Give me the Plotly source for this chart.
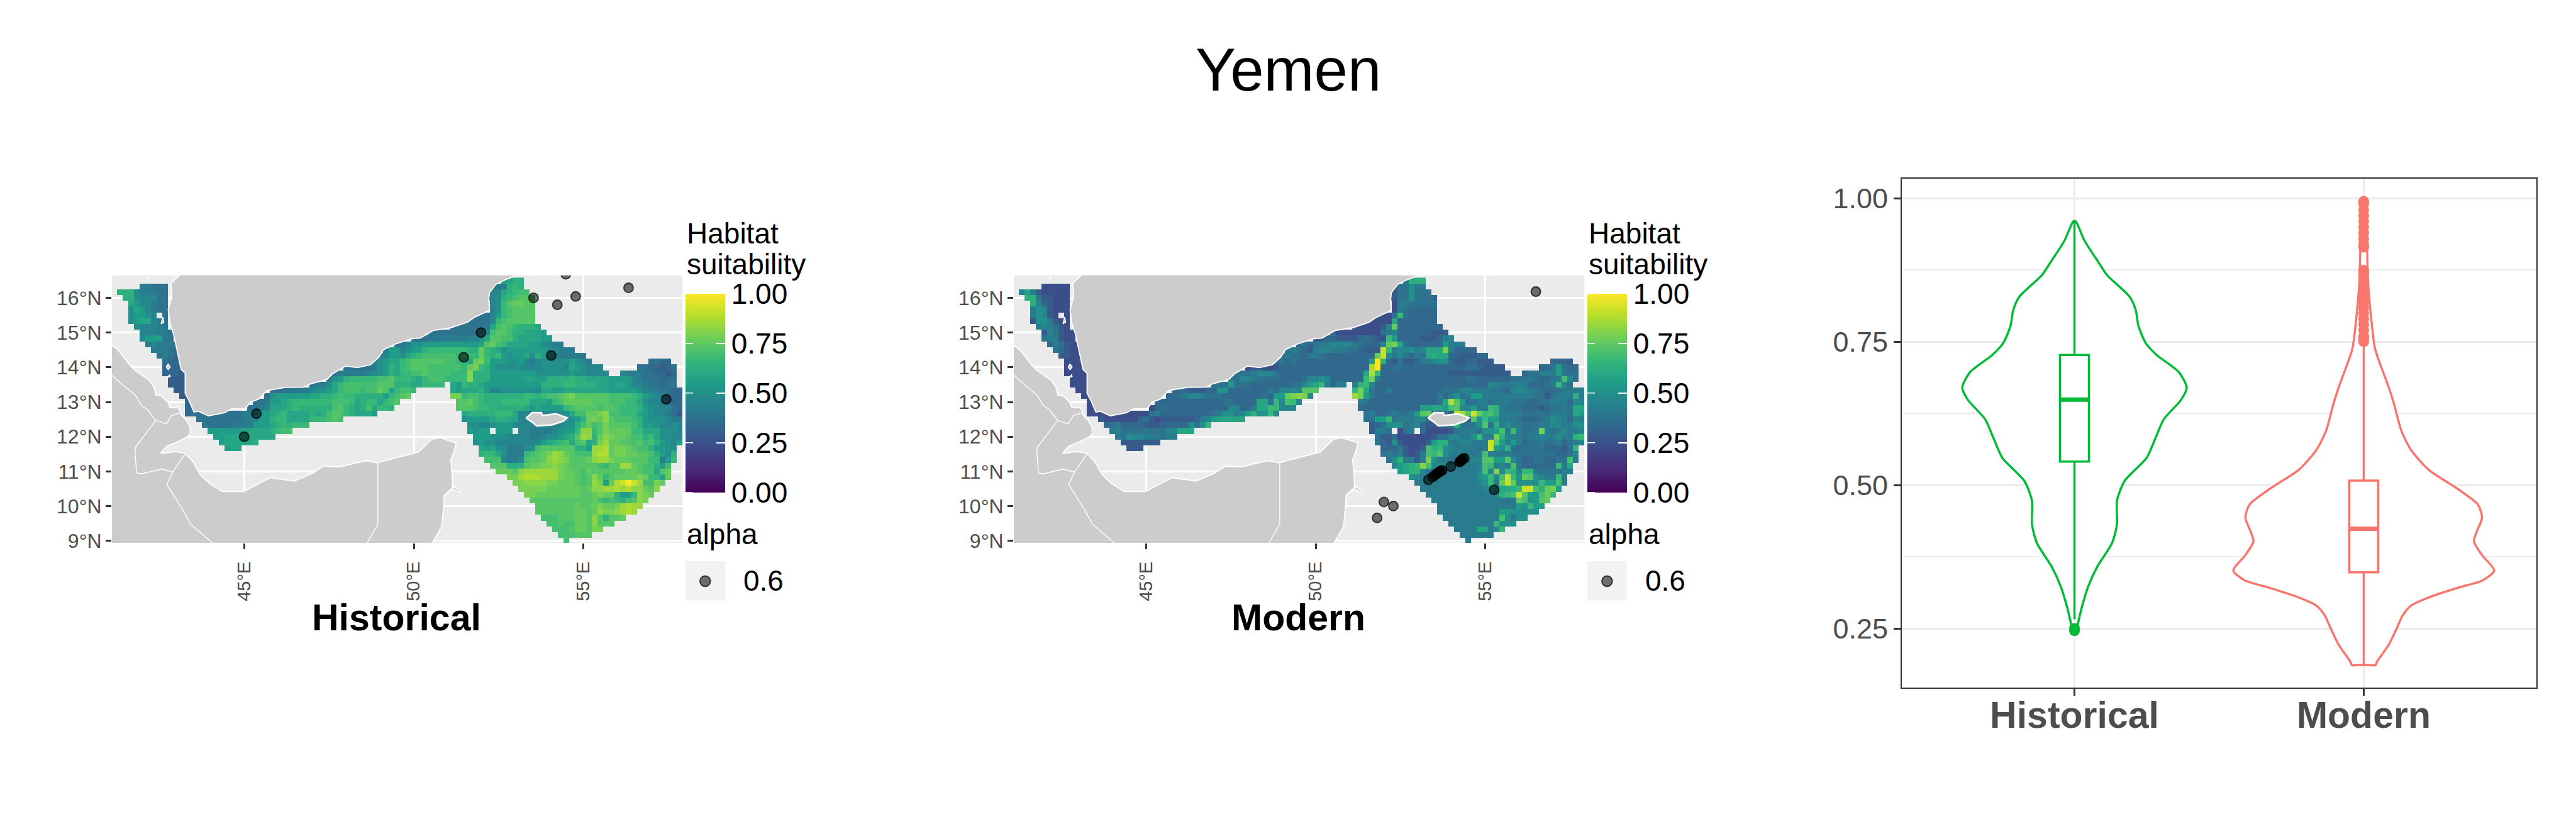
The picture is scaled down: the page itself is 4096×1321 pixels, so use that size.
import plotly.graph_objects as go

W, H = 4096, 1321
REF_W, REF_H = 4650, 1500
S = W / REF_W
FONT = "Liberation Sans"
TXT = "#4D4D4D"
TICK = "#333333"
GREEN = "#00BA38"
RED = "#F8766D"
GRAY_LAND = "#CCCCCC"

TITLE = "Yemen"
CATEGORIES = ["Historical", "Modern"]
LAT_TICKS = [9, 10, 11, 12, 13, 14, 15, 16]
LON_TICKS = [45, 50, 55]
CB_TICKS = [0, 0.25, 0.5, 0.75, 1]
VIOLIN_TICKS = [0.25, 0.5, 0.75, 1.0]
VIOLIN_MINOR = [0.375, 0.625, 0.875]

# Habitat-suitability value of each letter used in the raster rows below.
LEVEL_CODES = "ghijklmnopqrstuvwxyz"
LEVEL_VALUES = [0.24, 0.29, 0.335, 0.375, 0.42, 0.46, 0.50, 0.55, 0.59, 0.63, 0.67, 0.70, 0.73, 0.76, 0.79, 0.82, 0.85, 0.88, 0.92, 1.0]

# Raster rows: (row, first column, value letters); space = no data.
HIST_CELLS = [
    (0,68,"oopp"),
    (1,4,"kkjjj"),(1,66,"jkkpqp"),
    (2,0,"ppplkkkjj"),(2,65,"kllopqrr"),
    (3,1,"ppmllljj"),(3,65,"klmpqrssr"),
    (4,2,"onllkjj"),(4,66,"lmqsttss"),
    (5,2,"monlkjj"),(5,66,"lmqrssss"),
    (6,2,"mnnml j"),(6,63,"jjjlnqrssss"),
    (7,2,"mnoolkj"),(7,61,"jjjjjlqrsssss"),
    (8,3,"mlllkk"),(8,59,"jjjjjjkorsrqpppo"),
    (9,4,"lllkkj"),(9,55,"jjjjjjjjjklrssrppooon"),
    (10,4,"lnnnkj"),(10,52,"jjjjkkkkkkllmossrrpoooonn"),
    (11,5,"klkkkj"),(11,49,"jklmmnnnnnnnnnnostrqoooonnmlkk"),
    (12,6,"kkkjj"),(12,47,"knn"),(12,50,"lmnnpqqqqqqqpptqpomnnnnnnnmlkkk"),
    (13,7,"jkji"),(13,46,"klnn"),(13,50,"mopqrrrrrrqqqqtqpqnmnnompnlkkkkkk"),
    (14,8,"jiii"),(14,45,"kmnoo"),(14,50,"qrssssssrrqpotuqnnnmmnlklmmmmmnmlk"),(14,94,"jjii"),
    (15,8,"iiii"),(15,40,"jjjjjkmnpo"),(15,50,"qrsssrrrrrrqtuqpnmmmmmlllmmmmlonmlll"),(15,92,"jjiihij"),
    (16,8,"iiihh"),(16,38,"jkkkkklmmnpo"),(16,50,"qqrrsrrrrqqqvpppnnnnnnnnmmmmmmnmmllll"),(16,89,"lkkkjjiihi"),
    (17,9,"hhhh"),(17,37,"kmnpqqqqqrrs"),(17,49,"qqqpoqrrrqqqqvpppnnnnnnoonnppppqppoooonnnnlkjjjiij"),
    (18,9,"hhhh"),(18,34,"jkkmoqrrrrrrsss"),(18,49,"pppooqqqq"),(18,59,"onqpponnnnnnnnnnppppqqppppoonoonllkjjijk"),
    (19,10,"hhh"),(19,27,"jjjjkkklmmnoqrrrqrrtso"),(19,49,"qrrq"),(19,59,"onooopnllmmmmmmloonnoooooooonnnnnmlkkjjii"),
    (20,11,"hh"),(20,26,"jmnnnnnnooppqrqqpppppnq"),(20,49,"rst"),(20,59,"uuqrrqpppppppqqpqrrstussssssrrrrqpnmlkjii"),
    (21,12,"ii"),(21,24,"jjknnopqqqqqqqrrrqopqqoqr"),(21,49,"s"),(21,60,"sstrqpppqqqqqooonqrtttttsssrrrqqomllkjii"),
    (22,12,"ii"),(22,23,"jjklooopqpppppprsqpoproqqp"),(22,60,"sssrqqppppppononnnnqrssssrssrqqqpnmllljih"),
    (23,12,"ijjjjjjjjjkkknnopqoooopoprssqpooon"),(23,61,"opppppqqqolllllllmmorrttuvrrqqqonmllkjh"),
    (24,14,"jjjjjjjjkklnnpqqooooqqqrsr"),(24,61,"mnnnnoppoollllllllmmnptutvsrrrqpnmmmlkk"),
    (25,15,"kjjjjkkkknnnopqpqqq"),(25,62,"mmllmnnnlllllllllmmprtrsussssrpnnmllml"),
    (26,16,"nnnnnnooooopqrr"),(26,62,"nmnn nnn llkkkklmnnqvvqsuttttqqooommml"),
    (27,17,"nnooooooooo"),(27,63,"nnnmmmllllkklmmnopswvptvuttsrrpqommll"),
    (28,18,"nooooop"),(28,63,"mnmmllllllllnopqrorsopuwttssrsqrpnmln"),
    (29,19,"noo"),(29,64,"onommkkkmmrssssssppnwwxtuutsrrpnnmm"),
    (30,64,"pqqomkkkqrstuwvtsrrrwxxtuuttssrpnmp"),
    (31,65,"rrrlkklrsstvwvussstvwwutttsssqqknq"),
    (32,66,"ssspppsttuuvutsssssrqsswwtsrrpnr"),
    (33,67,"tttsvwwwwwwuttsrtssssssttsrrost"),
    (34,69,"uuwxxxwwwuttsrsvtqsttttutqqot"),
    (35,70,"uuvvvvuutttsrswuntxyzywrrut"),
    (36,71,"uuuuuttttttstvvwwxwxvvtsv"),
    (37,72,"uuttttttttsstuttpnnqvut"),
    (38,73,"ssssssssssstrqrqprsvu"),
    (39,74,"ssssssstsstuttuwxww"),
    (40,74,"sssssssttstvuuvwxw"),
    (41,75,"rrrsssttsvspsst"),
    (42,76,"rrsrrttsvsss"),
    (43,77,"rrrsttsuu"),
    (44,78,"rrrsss"),
    (45,79,"r"),
]

MODERN_CELLS = [
    (0,68,"kppp"),
    (1,4,"ggggg"),(1,66,"hjjmkk"),
    (2,0,"lokhggggg"),(2,65,"hhjjmjjj"),
    (3,1,"ppkhhggg"),(3,65,"hhjjmjjji"),
    (4,2,"plihggg"),(4,66,"gkkjjjjj"),
    (5,2,"kmlhggg"),(5,66,"gkjiiiii"),
    (6,2,"kmlhg g"),(6,63,"hggjqjiiiii"),
    (7,2,"hmmkhgg"),(7,61,"gggggoiiiiiii"),
    (8,3,"klkjhg"),(8,59,"hgggghltiiiiiiii"),
    (9,4,"hljhgg"),(9,55,"iggggggggjkliiiiiihhh"),
    (10,4,"jkkhgg"),(10,52,"hhiihhhhijihgqniiiihhhikl"),
    (11,5,"ikjhgg"),(11,49,"ijijkkllllkjiiiltuojiiiiiinkkk"),
    (12,6,"jihgg"),(12,47,"jkj"),(12,50,"ihkllkkkjjihhhyqkllmkloooukiiii"),
    (13,7,"hhgg"),(13,46,"jkjj"),(13,50,"ikkjiiiiiiiiitylkljikjopooiihhhii"),
    (14,8,"gggg"),(14,45,"ijiji"),(14,50,"iiiiiiiiiiiinzpihjhhikklmmihhiihhh"),(14,94,"iiih"),
    (15,8,"gggg"),(15,40,"ghhgghiiii"),(15,50,"iiiiiiiiiiiixziijjiiiiiiiiiiijjihhhh"),(15,92,"iijnjii"),
    (16,8,"ggggg"),(16,38,"jjjkllljiiii"),(16,50,"iiiiiiiiiiioxqiiiiiiiiiiiihhhhhhhhhhh"),(16,89,"ijjkkknjjj"),
    (17,9,"gggg"),(17,37,"kjllkjjjjiii"),(17,49,"ijllmliiiiiiqukiiiiiiiiiiiiiiijjiiiiiijjjkjiijkrlj"),
    (18,9,"gggg"),(18,34,"jjjnjjjiiiiiiij"),(18,49,"jlnoqkikk"),(18,59,"kpqliiiiiiiiiiiiiiiiiiiillkkklkiiijkqlj"),
    (19,10,"ggg"),(19,27,"iiihhhiimmiiiiiiikjlll"),(19,49,"lsss"),(19,59,"quojiikiiiiiiiiijjjllkkkkjjilllkkjiijkkkk"),
    (20,11,"gg"),(20,26,"iijkllkjjjiiiiiiijinntu"),(20,49,"vul"),(20,59,"wunkiiiiiiiiiiikikmjknnkkkkkkkkkjjhjkkkpk"),
    (21,12,"gg"),(21,24,"iiiiiiiiiiiijjiiiioojqlrq"),(21,49,"l"),(21,60,"kjiiiiiiiiiiiijoxsnjjkkjkkkjjjiijjkkkill"),
    (22,12,"gg"),(22,23,"gijiiiiiiiiiiilliikooqqlll"),(22,60,"iiiiiiiiiiinnoonrsllnkkqpkjjjiiihijjkjoo"),
    (23,12,"gggggggggggjkiiiiiiiiijkmmklnpmmql"),(23,61,"jkiijkjjknstjijhxxsytqrpkkkkjjjjjkkkjon"),
    (24,14,"hggggggijhghhhhhhiklnooooo"),(24,61,"jjnnqjkkklliiiiiiihsmqnnkkkjiiijkmlkilk"),
    (25,15,"ijkiiiihhhiiiiimjmq"),(25,62,"hijmmmjklihhhijpjjkmsjpkmkkjjjkkllkkmm"),
    (26,16,"kljjjjkjjjllooo"),(26,62,"hkkj gjk igggghjkkkjmmnrkqkjjkukjklkkll"),
    (27,17,"kjmllkkkjkk"),(27,63,"jhhjgggggghjjllkkmqkkuplkkjkklkkmkkpq"),
    (28,18,"hhhhhhh"),(28,63,"jihmhgggghnppkkllkkkysnknkijjkjjkijkl"),
    (29,19,"hhh"),(29,64,"iiijhgghrpqmlkkkkjkynmpjijjjjiiihjq"),
    (30,64,"jkjkhghkrqsmkkkkjkrkkkkjjjjjjjjiijl"),
    (31,65,"jmpkkhkumkkjjkjllssnnsljiijjiijjrk"),
    (32,66,"lnopqvrlllkkkkklrqklkrjiiiiiiqko"),
    (33,67,"noppljkkkkkkkklrlvlqplqqkjjjjkk"),
    (34,69,"mlkkkkkkkkkkmnqlryqmtsmlkkqk"),
    (35,70,"kkkkkkkkkkklmqktytmmmmqnnrk"),
    (36,71,"kkkkkkkkkkklmloopqyyrptun"),
    (37,72,"kkkkkkkkkkkklpqrysnnrtq"),
    (38,73,"kkkkkkkkkkkkkjktrmnst"),
    (39,74,"kkkkkkkkkkkkkknmqnn"),
    (40,74,"kkkkkkkkkkknnmmmmm"),
    (41,75,"kkkkkkkkkkrmkmm"),
    (42,76,"kkkkkkkkqmmm"),
    (43,77,"kkkkooklq"),
    (44,78,"kkkkkk"),
    (45,79,"k"),
]

HIST_PT_LON = [45.36, 45.0, 51.47, 51.98, 54.05, 57.44, 53.53, 54.23, 54.77, 56.33, 54.48]
HIST_PT_LAT = [12.66, 12.0, 14.29, 15.0, 14.34, 13.08, 16.0, 15.8, 16.04, 16.29, 16.68]
MOD_PT_LON = [56.49, 52.01, 52.29, 51.81, 53.32, 53.45, 53.51, 53.56, 53.61, 53.65, 53.68, 53.73,
              53.98, 54.38, 54.33, 54.31, 54.28, 54.26, 54.24, 55.26]
MOD_PT_LAT = [16.18, 10.12, 10.0, 9.66, 10.76, 10.84, 10.89, 10.93, 10.96, 10.99, 11.01, 11.03,
              11.14, 11.38, 11.36, 11.33, 11.3, 11.29, 11.27, 10.47]

ARABIA_LON = [43.14,42.84,42.865,42.76,42.81,42.92,43.0,43.1,43.14,43.26,43.26,43.38,43.52,43.65,43.95,44.42,44.64,
              45.04,45.18,45.42,45.67,46.21,46.76,46.95,47.44,47.6,47.93,47.985,48.34,48.72,48.97,49.1,49.43,49.92,
              50.19,50.44,50.57,51.09,51.58,51.77,52.23,52.21,52.23,52.42,52.64,52.97,53.07,53.2,43.2]
ARABIA_LAT = [16.7,16.415,16.02,15.67,15.27,14.95,14.58,14.1,13.94,13.83,13.25,13.03,12.71,12.73,12.6,12.69,12.81,
              12.81,13.0,13.08,13.33,13.42,13.43,13.52,13.65,13.81,13.99,14.035,13.99,14.07,14.29,14.5,14.66,14.82,
              14.845,14.98,15.06,15.14,15.3,15.43,15.64,15.96,16.15,16.39,16.5,16.63,16.65,16.8,16.8]
AFRICA_LON = [41.0,41.095,41.26,41.64,41.75,42.21,42.35,42.4,42.54,42.76,42.81,42.95,43.03,43.11,43.14,43.3,43.41,
              43.41,43.33,43.0,42.73,42.57,42.54,42.73,42.97,43.25,43.49,43.71,43.97,44.36,44.98,45.45,45.77,46.47,
              47.02,47.33,47.8,48.58,48.92,49.67,50.14,50.53,50.77,51.25,51.17,51.09,51.14,51.14,51.03,50.9,50.87,
              50.82,50.54,50.5,41.0]
AFRICA_LAT = [14.7,14.63,14.525,14.05,13.94,13.62,13.41,13.2,13.19,12.98,12.85,12.83,12.87,12.74,12.63,12.47,12.26,
              12.08,12.0,11.84,11.73,11.57,11.52,11.54,11.57,11.52,11.28,10.9,10.66,10.42,10.42,10.66,10.82,10.72,
              10.95,11.15,11.13,11.31,11.25,11.44,11.56,11.93,11.97,11.82,11.54,11.33,10.8,10.53,10.43,10.32,9.89,
              9.41,8.94,8.8,8.8]
SOCOTRA_LON = [53.31,53.49,53.76,53.79,54.19,54.52,54.41,54.08,53.62,53.49,53.31]
SOCOTRA_LAT = [12.54,12.69,12.69,12.61,12.66,12.545,12.45,12.34,12.315,12.42,12.54]
ISLET_LON = [[51.03,51.2,51.39,51.36,51.2,51.03],[42.55,42.6,42.63,42.55],[42.7,42.76,42.82,42.76,42.7],[42.72,42.8,42.82,42.72],[42.13,42.18,42.21,42.13]]
ISLET_LAT = [[10.43,10.55,10.43,10.39,10.47,10.43],[15.25,15.45,15.3,15.25],[14.01,14.09,14.01,13.93,14.01],[13.7,13.78,13.74,13.7],[16.7,16.54,16.7,16.7]]
BORDER_LON = [[41.095,41.4,41.8,41.97,42.16,42.39,41.8,41.78,41.83,41.97,42.57,42.89],
              [42.39,42.7,42.86,43.11],
              [43.25,42.89,42.72,43.19,43.42,44.05,44.12],
              [48.94,48.94,48.63,48.6]]
BORDER_LAT = [[13.78,13.51,13.19,12.9,12.77,12.47,11.7,11.54,10.96,10.93,11.07,10.98],
              [12.47,12.37,12.61,12.69],
              [11.5,10.98,10.62,9.89,9.48,8.95,8.85],
              [11.25,9.48,8.95,8.85]]

HIST_V_Y = [0.96,0.927,0.887,0.866,0.829,0.805,0.778,0.748,0.727,0.697,0.67,0.649,0.615,0.582,0.548,0.507,0.473,0.432,0.399,0.358,0.324,0.29,0.263,0.246]
HIST_V_W = [0.004,0.034,0.085,0.113,0.19,0.212,0.221,0.246,0.284,0.361,0.388,0.369,0.309,0.28,0.25,0.173,0.147,0.147,0.13,0.079,0.048,0.027,0.014,0.007]
MOD_V_Y = [1.0,0.853,0.785,0.738,0.704,0.67,0.643,0.595,0.561,0.527,0.493,0.466,0.443,0.419,0.402,0.378,0.351,0.334,0.321,0.304,0.29,0.273,0.249,0.222,0.192,0.186,0.186]
MOD_V_W = [0.003,0.015,0.027,0.039,0.062,0.087,0.104,0.13,0.164,0.224,0.326,0.395,0.409,0.391,0.381,0.409,0.451,0.412,0.326,0.224,0.164,0.135,0.113,0.087,0.046,0.041,0.02]
BOX_Q1 = [0.541, 0.348]
BOX_MED = [0.649, 0.424]
BOX_Q3 = [0.727, 0.508]
BOX_LOW = [0.266, 0.186]
BOX_HIGH = [0.96, 0.741]
HIST_OUT = [0.246, 0.25]
MOD_OUT = [0.75,0.755,0.76,0.77,0.78,0.79,0.80,0.81,0.82,0.83,0.84,0.85,0.86,0.87,0.875,
           0.915,0.92,0.93,0.94,0.95,0.96,0.97,0.98,0.99,0.995]


def px(v):
    return v / REF_W


def py(v):
    return 1 - v / REF_H


LEVELS = dict(zip(LEVEL_CODES, LEVEL_VALUES))


def grid(cells):
    z = [[None] * 100 for _ in range(46)]
    for row, col, text in cells:
        for i, ch in enumerate(text):
            if ch != " " and col + i < 100:
                z[row][col + i] = LEVELS[ch]
    return z


LON_CENTERS = [41.25 + (k + 0.5) / 6 for k in range(100)]
LAT_CENTERS = [16.5 - j / 6 for j in range(46)]

fig = go.Figure()


def add_map(cells, pt_lon, pt_lat, xa, ya, cb_left):
    fig.add_trace(go.Heatmap(
        z=grid(cells), x=LON_CENTERS, y=LAT_CENTERS, xaxis=xa, yaxis=ya,
        colorscale="Viridis", zmin=0, zmax=1, hoverongaps=False, showscale=True,
        colorbar=dict(x=px(cb_left), xanchor="left", xpad=0,
                      y=py(709.5), yanchor="middle", ypad=0,
                      len=359 * S, lenmode="pixels", thickness=72 * S, thicknessmode="pixels",
                      outlinewidth=0, borderwidth=0,
                      tickmode="array", tickvals=CB_TICKS, ticktext=["0.00", "0.25", "0.50", "0.75", "1.00"],
                      ticks="inside", ticklen=14, tickwidth=1.5, tickcolor="white",
                      tickprefix="\u2002", tickfont=dict(family=FONT, size=46, color="black"))))
    for lon, lat, w in [(AFRICA_LON, AFRICA_LAT, 1.8), (ARABIA_LON, ARABIA_LAT, 1.8), (SOCOTRA_LON, SOCOTRA_LAT, 2.6)]:
        fig.add_trace(go.Scatter(x=lon, y=lat, xaxis=xa, yaxis=ya, mode="lines", fill="toself",
                                 fillcolor=GRAY_LAND, line=dict(color="white", width=w),
                                 hoverinfo="skip", showlegend=False))
    for lon, lat in zip(ISLET_LON, ISLET_LAT):
        fig.add_trace(go.Scatter(x=lon, y=lat, xaxis=xa, yaxis=ya, mode="lines", fill="toself",
                                 fillcolor=GRAY_LAND, line=dict(color="white", width=1.6),
                                 hoverinfo="skip", showlegend=False))
    for lon, lat in zip(BORDER_LON, BORDER_LAT):
        fig.add_trace(go.Scatter(x=lon, y=lat, xaxis=xa, yaxis=ya, mode="lines",
                                 line=dict(color="white", width=1.4), hoverinfo="skip", showlegend=False))
    fig.add_trace(go.Scatter(x=pt_lon, y=pt_lat, xaxis=xa, yaxis=ya, mode="markers",
                             marker=dict(size=15, color="rgba(0,0,0,0.55)",
                                         line=dict(color="rgba(0,0,0,0.7)", width=2)),
                             showlegend=False))


add_map(HIST_CELLS, HIST_PT_LON, HIST_PT_LAT, "x", "y", 1237)
add_map(MODERN_CELLS, MOD_PT_LON, MOD_PT_LAT, "x2", "y2", 2865)

# Violins
for c, (vy, vw, col) in enumerate([(HIST_V_Y, HIST_V_W, GREEN), (MOD_V_Y, MOD_V_W, RED)]):
    xs = [c + w for w in vw] + [c - w for w in reversed(vw)] + [c + vw[0]]
    ys = list(vy) + list(reversed(vy)) + [vy[0]]
    fig.add_trace(go.Scatter(x=xs, y=ys, xaxis="x3", yaxis="y3", mode="lines", fill="toself",
                             fillcolor="white", line=dict(color=col, width=3.5, shape="spline", smoothing=0.7),
                             hoverinfo="skip", showlegend=False))
    fig.add_trace(go.Box(x=[c], q1=[BOX_Q1[c]], median=[BOX_MED[c]], q3=[BOX_Q3[c]],
                         lowerfence=[BOX_LOW[c]], upperfence=[BOX_HIGH[c]],
                         width=0.1, whiskerwidth=0, boxpoints=False, xaxis="x4", yaxis="y4",
                         fillcolor="white", line=dict(color=col, width=3.5), showlegend=False))
    fig.add_trace(go.Scatter(x=[c - 0.05, c + 0.05], y=[BOX_MED[c], BOX_MED[c]], xaxis="x4", yaxis="y4",
                             mode="lines", line=dict(color=col, width=7), hoverinfo="skip", showlegend=False))
    outs = HIST_OUT if c == 0 else MOD_OUT
    fig.add_trace(go.Scatter(x=[c] * len(outs), y=outs, xaxis="x4", yaxis="y4", mode="markers",
                             marker=dict(size=17, color=col), showlegend=False))

map_x = dict(range=[41.1, 57.92], tickvals=LON_TICKS, ticktext=[f"{v}°E" for v in LON_TICKS],
             tickangle=-90, showgrid=True, gridcolor="white", gridwidth=3, zeroline=False,
             ticks="outside", ticklen=9, tickwidth=2.5, tickcolor=TICK,
             tickfont=dict(family=FONT, size=29, color=TXT), ticklabelstandoff=8)
map_y = dict(range=[8.94, 16.65], tickvals=LAT_TICKS, ticktext=[f"{v}°N" for v in LAT_TICKS],
             showgrid=True, gridcolor="white", gridwidth=3, zeroline=False,
             ticks="outside", ticklen=9, tickwidth=2.5, tickcolor=TICK,
             tickfont=dict(family=FONT, size=32, color=TXT))

shapes = []
annotations = [dict(text=TITLE, x=px(2325), y=py(125), xref="paper", yref="paper", showarrow=False,
                    xanchor="center", yanchor="middle", font=dict(family=FONT, size=96, color="black"))]
for left, panel_left, name, cx in [(1237, 202, CATEGORIES[0], 716), (2865, 1830, CATEGORIES[1], 2344)]:
    shapes.append(dict(type="rect", xref="paper", yref="paper", layer="below", line_width=0, fillcolor="#EBEBEB",
                       x0=px(panel_left), x1=px(panel_left + 1030), y0=py(980), y1=py(497)))
    shapes.append(dict(type="rect", xref="paper", yref="paper", line_width=0, fillcolor="#F2F2F2",
                       x0=px(left), x1=px(left + 72), y0=py(1084), y1=py(1013)))
    shapes.append(dict(type="circle", xref="paper", yref="paper", fillcolor="rgba(0,0,0,0.55)",
                       line=dict(color="rgba(0,0,0,0.7)", width=2),
                       x0=px(left + 36 - 9.5), x1=px(left + 36 + 9.5), y0=py(1049 + 9.5), y1=py(1049 - 9.5)))
    for text, yc in [("Habitat", 421), ("suitability", 477), ("alpha", 964)]:
        annotations.append(dict(text=text, x=px(left), y=py(yc), xref="paper", yref="paper", showarrow=False,
                                xanchor="left", yanchor="middle", font=dict(family=FONT, size=46, color="black")))
    annotations.append(dict(text="0.6", x=px(left + 103), y=py(1048), xref="paper", yref="paper", showarrow=False,
                            xanchor="left", yanchor="middle", font=dict(family=FONT, size=46, color="black")))
    annotations.append(dict(text=f"<b>{name}</b>", x=px(cx), y=py(1115), xref="paper", yref="paper", showarrow=False,
                            xanchor="center", yanchor="middle", font=dict(family=FONT, size=59, color="black")))
    for v in CB_TICKS:
        annotations.append(dict(text="", x=px(left), y=py(530 + (1 - v) * 359), xref="paper", yref="paper",
                                showarrow=True, arrowhead=0, arrowwidth=1.5, arrowcolor="white",
                                axref="pixel", ayref="pixel", ax=14, ay=0, standoff=0))

violin_x = dict(range=[-0.597, 1.598], domain=[px(3433), px(4579)], tickvals=[0, 1], ticktext=[f"<b>{c}</b>" for c in CATEGORIES],
                showgrid=True, gridcolor="#EBEBEB", gridwidth=3, zeroline=False,
                showline=True, mirror=True, linecolor=TICK, linewidth=2,
                ticks="outside", ticklen=11, tickwidth=2.5, tickcolor=TICK, ticklabelstandoff=-20,
                tickfont=dict(family=FONT, size=59, color=TXT))
violin_y = dict(range=[0.147, 1.034], domain=[py(1241), py(323)], tickvals=VIOLIN_TICKS,
                ticktext=[f"{v:.2f}" for v in VIOLIN_TICKS],
                showgrid=True, gridcolor="#EBEBEB", gridwidth=3, zeroline=False,
                minor=dict(tickvals=VIOLIN_MINOR, showgrid=True, gridcolor="#EBEBEB", gridwidth=1.5, ticks=""),
                showline=True, mirror=True, linecolor=TICK, linewidth=2,
                ticks="outside", ticklen=11, tickwidth=2.5, tickcolor=TICK,
                tickfont=dict(family=FONT, size=45, color=TXT))

fig.update_layout(
    width=W, height=H, margin=dict(l=0, r=0, t=0, b=0, autoexpand=False), autosize=False,
    paper_bgcolor="white", plot_bgcolor="rgba(0,0,0,0)", showlegend=False, hovermode=False,
    xaxis=dict(map_x, domain=[px(202), px(1232)], anchor="y"),
    yaxis=dict(map_y, domain=[py(980), py(497)], anchor="x"),
    xaxis2=dict(map_x, domain=[px(1830), px(2860)], anchor="y2"),
    yaxis2=dict(map_y, domain=[py(980), py(497)], anchor="x2"),
    xaxis3=dict(violin_x, anchor="y3"),
    yaxis3=dict(violin_y, anchor="x3"),
    xaxis4=dict(range=violin_x["range"], domain=violin_x["domain"], overlaying="x3", anchor="y4", visible=False),
    yaxis4=dict(range=violin_y["range"], domain=violin_y["domain"], overlaying="y3", anchor="x4", visible=False),
    shapes=shapes, annotations=annotations,
)

fig.write_html("out.html", config=dict(displayModeBar=False),
               post_script="document.body.style.margin='0';document.body.style.overflow='hidden';")
